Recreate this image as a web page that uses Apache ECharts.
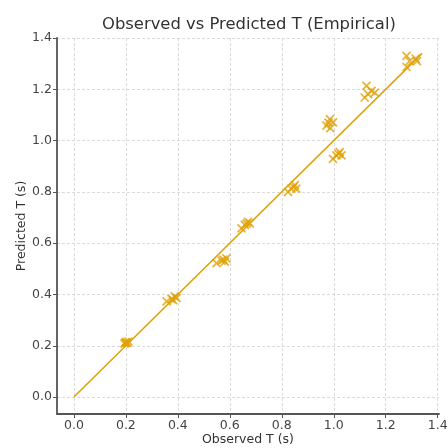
<!DOCTYPE html>
<html><head><meta charset="utf-8">
<script src="https://cdn.jsdelivr.net/npm/echarts@6/dist/echarts.min.js"></script>
<style>html,body{margin:0;padding:0;background:#fff}#c{width:448px;height:448px}</style>
</head><body><div id="c"></div>
<script>
const observed = [0.195,0.200,0.205,0.210,0.198, 0.357,0.376,0.388,0.395,0.382,
  0.549,0.568,0.587,0.581,0.575, 0.645,0.658,0.670,0.677,0.665,
  0.824,0.837,0.850,0.856,0.845, 0.972,0.985,0.997,0.987,0.980,
  0.997,1.010,1.023,1.030,1.018, 1.119,1.126,1.145,1.158,1.132,
  1.280,1.292,1.315,1.320,1.280];
const predicted = [0.208,0.214,0.211,0.216,0.212, 0.373,0.383,0.393,0.386,0.378,
  0.522,0.532,0.541,0.528,0.536, 0.658,0.671,0.683,0.677,0.676,
  0.800,0.813,0.826,0.813,0.818, 1.058,1.084,1.071,1.049,1.070,
  0.929,0.942,0.955,0.942,0.948, 1.168,1.213,1.194,1.187,1.181,
  1.330,1.310,1.320,1.310,1.287];
const idealLine = [0, 1.34];
const tickValues = [0.0,0.2,0.4,0.6,0.8,1.0,1.2,1.4];

const gold = '#E0A008';
const font = 'DejaVu Sans';
function axisCommon(){
  return {
    type:'value',
    axisLine:{show:true,onZero:false,lineStyle:{color:'#555',width:1.8}},
    axisTick:{show:true,length:4,customValues:tickValues,lineStyle:{color:'#555',width:1}},
    axisLabel:{customValues:tickValues,color:'#444',fontFamily:font,fontSize:12.5,margin:5,
      formatter:v=>v.toFixed(1),showMinLabel:true,showMaxLabel:true},
    splitLine:{show:true,customValues:tickValues,lineStyle:{color:'#d0d0d0',type:[3,2],width:0.8}},
    nameLocation:'middle',
    nameMoveOverlap:false,
    nameTextStyle:{color:'#333',fontFamily:font,fontSize:12.5}
  };
}
const chart = echarts.init(document.getElementById('c'),null,{renderer:'canvas'});
chart.setOption({
  animation:false,
  backgroundColor:'#fff',
  title:{text:'Observed vs Predicted T (Empirical)',left:97,top:12,
    textStyle:{fontFamily:font,fontSize:16.4,fontWeight:'normal',color:'#333'}},
  grid:{left:57,right:9,top:38,bottom:34,containLabel:false,outerBoundsMode:'none'},
  xAxis:Object.assign(axisCommon(),{min:-0.065,max:1.405,name:'Observed T (s)',nameGap:19}),
  yAxis:Object.assign(axisCommon(),{min:-0.066,max:1.4,name:'Predicted T (s)',nameGap:29}),
  series:[
    {type:'line',data:idealLine.map(v=>[v,v]),symbol:'none',
      lineStyle:{color:gold,width:1.5},z:2},
    {type:'scatter',data:observed.map((o,i)=>[o,predicted[i]]),
      symbol:'path://M0,0L10,10M10,0L0,10',symbolSize:8,
      itemStyle:{color:'rgba(0,0,0,0)',borderColor:gold,borderWidth:1.7},z:3}
  ]
});
</script></body></html>
